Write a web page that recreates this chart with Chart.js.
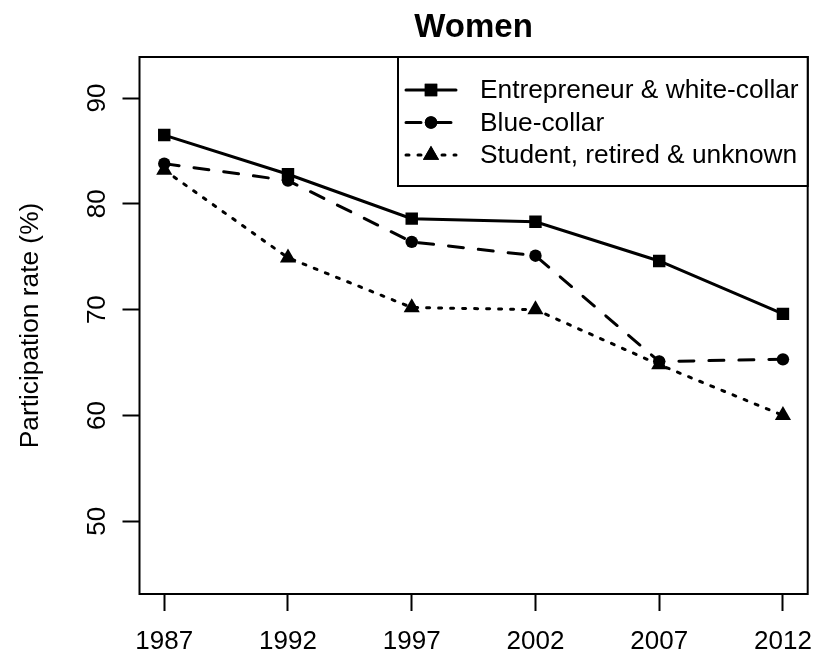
<!DOCTYPE html>
<html>
<head>
<meta charset="utf-8">
<script src="https://cdn.jsdelivr.net/npm/chart.js@4/dist/chart.umd.min.js"></script>
<style>
  html, body { margin: 0; padding: 0; background: #fff; }
  #wrap { width: 817px; height: 654px; }
</style>
</head>
<body>
<div id="wrap"><canvas id="chart" width="817" height="654"></canvas></div>
<script>
// Women - participation rate by occupation group
const years = [1987, 1992, 1997, 2002, 2007, 2012];
const whiteCollar = [86.5, 82.8, 78.6, 78.3, 74.6, 69.6];
const blueCollar = [83.8, 82.2, 76.4, 75.1, 65.1, 65.3];
const studentRetired = [83.2, 74.9, 70.2, 70.0, 64.8, 60.0];
const yTicks = [50, 60, 70, 80, 90];
const seriesNames = ['Entrepreneur & white-collar', 'Blue-collar', 'Student, retired & unknown'];

const FONT = '"Liberation Sans", Arial, Helvetica, sans-serif';

function toPoints(vals) {
    return years.map((yr, i) => ({ x: yr, y: vals[i] }));
}

// plot frame like R's box()
const boxPlugin = {
    id: 'box',
    afterDraw(chart) {
        const { ctx, chartArea: a } = chart;
        ctx.save();
        ctx.strokeStyle = '#000';
        ctx.lineWidth = 2;
        ctx.strokeRect(a.left, a.top, a.right - a.left, a.bottom - a.top);
        ctx.restore();
    }
};

// legend box in the top right corner of the plot
const legendBox = {
    id: 'legendBox',
    afterDraw(chart) {
        const { ctx, chartArea: a } = chart;
        const left = 398, top = a.top, right = a.right, bottom = 186;
        ctx.save();
        ctx.fillStyle = '#fff';
        ctx.fillRect(left, top, right - left, bottom - top);
        ctx.strokeStyle = '#000';
        ctx.lineWidth = 2;
        ctx.strokeRect(left, top, right - left, bottom - top);
        const rows = [90, 122.5, 155];
        chart.data.datasets.forEach((ds, i) => {
            const y = rows[i];
            ctx.save();
            ctx.strokeStyle = '#000';
            ctx.lineWidth = ds.borderWidth;
            ctx.lineCap = 'round';
            ctx.setLineDash(ds.borderDash || []);
            ctx.beginPath();
            ctx.moveTo(406, y);
            ctx.lineTo(456, y);
            ctx.stroke();
            ctx.restore();
            ctx.fillStyle = '#000';
            Chart.helpers.drawPoint(ctx, { pointStyle: ds.pointStyle, radius: ds.pointRadius, rotation: 0, borderWidth: 0 }, 431, y);
            ctx.fill();
            ctx.fillStyle = '#000';
            ctx.font = '26.3px ' + FONT;
            ctx.textAlign = 'left';
            ctx.textBaseline = 'middle';
            ctx.fillText(seriesNames[i], 480, y + 1);
        });
        ctx.restore();
    }
};

const lineCommon = {
    borderColor: '#000',
    backgroundColor: '#000',
    pointBackgroundColor: '#000',
    pointBorderWidth: 0,
    borderWidth: 3,
    borderCapStyle: 'round',
    fill: false,
    tension: 0
};

new Chart(document.getElementById('chart').getContext('2d'), {
    type: 'line',
    data: {
        datasets: [
            { ...lineCommon, label: seriesNames[0], data: toPoints(whiteCollar), pointStyle: 'rect', pointRadius: 8.8, order: 2 },
            { ...lineCommon, label: seriesNames[1], data: toPoints(blueCollar), pointStyle: 'circle', pointRadius: 6.2, borderDash: [15, 15], order: 1 },
            { ...lineCommon, label: seriesNames[2], data: toPoints(studentRetired), pointStyle: 'triangle', pointRadius: 9.3, borderDash: [3, 9], order: 0 }
        ]
    },
    options: {
        responsive: false,
        animation: false,
        events: [],
        layout: { padding: { left: 0, right: 6.3, top: 0, bottom: 0 } },
        plugins: {
            legend: { display: false },
            tooltip: { enabled: false },
            title: {
                display: true,
                text: 'Women',
                fullSize: false,
                color: '#000',
                font: { family: FONT, size: 33, weight: 'bold', lineHeight: 1.2 },
                padding: { top: 7.7, bottom: 9.7 }
            }
        },
        scales: {
            x: {
                type: 'linear',
                min: 1986,
                max: 2013,
                afterBuildTicks: axis => { axis.ticks = years.map(v => ({ value: v })); },
                afterFit: axis => { axis.height = 60; axis.paddingLeft = 0; axis.paddingRight = 0; },
                grid: { display: true, drawOnChartArea: false, drawTicks: true, tickLength: 17, tickWidth: 2, tickColor: '#000' },
                border: { display: false },
                ticks: { color: '#000', font: { family: FONT, size: 26 }, padding: 15, maxRotation: 0, autoSkip: false, callback: v => String(v) }
            },
            y: {
                type: 'linear',
                min: 43.12,
                max: 93.88,
                afterBuildTicks: axis => { axis.ticks = yTicks.map(v => ({ value: v })); },
                afterFit: axis => { axis.width = 139.5; axis.paddingTop = 0; axis.paddingBottom = 0; },
                grid: { display: true, drawOnChartArea: false, drawTicks: true, tickLength: 17, tickWidth: 2, tickColor: '#000' },
                border: { display: false },
                title: {
                    display: true,
                    text: 'Participation rate (%)',
                    color: '#000',
                    font: { family: FONT, size: 26.3, lineHeight: 1.2 },
                    padding: { top: 15, bottom: 0 }
                },
                ticks: { color: '#000', font: { family: FONT, size: 26 }, minRotation: 90, maxRotation: 90, crossAlign: 'center', padding: 10, autoSkip: false }
            }
        }
    },
    plugins: [boxPlugin, legendBox]
});
</script>
</body>
</html>
